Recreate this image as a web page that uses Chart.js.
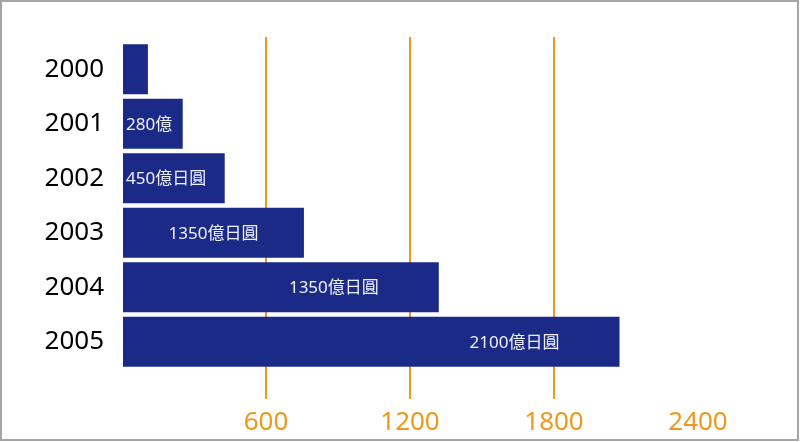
<!DOCTYPE html>
<html>
<head>
<meta charset="utf-8">
<script src="https://cdn.jsdelivr.net/npm/chart.js@4.4.1/dist/chart.umd.min.js"></script>
<style>
  html, body { margin: 0; padding: 0; background: #fff; }
  canvas { display: block; }
</style>
</head>
<body>
<canvas id="chart" width="800" height="442"></canvas>
<script>
// Datos del gráfico
const years = ['2000', '2001', '2002', '2003', '2004', '2005'];
const amounts = [108, 253, 428, 758, 1320, 2073];
const barTexts = ['', '280億', '450億日圓', '1350億日圓', '1350億日圓', '2100億日圓'];
const xTicks = [0, 600, 1200, 1800, 2400];

const navy = '#1a2a86';
const orange = '#ee9820';

// Dónde va cada texto dentro de su barra
const textPlacement = [null, 'start', 'start', 'center', 'end', 'end'];

// Líneas verticales: un poco por encima del área
const gridTop = {
    id: 'gridTop',
    beforeDatasetsDraw(chart) {
        const { ctx, chartArea, scales } = chart;
        ctx.save();
        ctx.strokeStyle = orange;
        ctx.lineWidth = 2;
        xTicks.slice(1, -1).forEach(v => {
            const x = scales.x.getPixelForValue(v);
            ctx.beginPath();
            ctx.moveTo(x, chartArea.top - 5);
            ctx.lineTo(x, chartArea.top);
            ctx.stroke();
        });
        ctx.restore();
    }
};

// Textos blancos dentro de las barras
const barLabels = {
    id: 'barLabels',
    afterDatasetsDraw(chart) {
        const { ctx } = chart;
        const meta = chart.getDatasetMeta(0);
        ctx.save();
        ctx.fillStyle = '#eef0f8';
        ctx.font = '17px "Noto Sans", "Noto Sans CJK TC", sans-serif';
        ctx.textBaseline = 'middle';
        meta.data.forEach((bar, i) => {
            const text = barTexts[i];
            const where = textPlacement[i];
            if (!text || !where) return;
            let x;
            if (where === 'start') {
                ctx.textAlign = 'left';
                x = bar.base + 3;
            } else if (where === 'center') {
                ctx.textAlign = 'center';
                x = (bar.base + bar.x) / 2;
            } else {
                ctx.textAlign = 'right';
                x = bar.x - 60;
            }
            ctx.fillText(text, x, bar.y + 1);
        });
        ctx.restore();
    }
};

// Marco gris
const frame = {
    id: 'frame',
    afterDraw(chart) {
        const { ctx, width, height } = chart;
        ctx.save();
        ctx.strokeStyle = '#a6a6a6';
        ctx.lineWidth = 2;
        ctx.strokeRect(1, 1, width - 3, height - 3);
        ctx.restore();
    }
};

new Chart(document.getElementById('chart'), {
    type: 'bar',
    data: {
        labels: years,
        datasets: [{
            data: amounts,
            backgroundColor: navy,
            borderWidth: 0,
            categoryPercentage: 1,
            barPercentage: 0.916
        }]
    },
    options: {
        indexAxis: 'y',
        responsive: false,
        animation: false,
        layout: {
            padding: { top: 42, right: 102, bottom: 0, left: 0 }
        },
        plugins: {
            legend: { display: false },
            tooltip: { enabled: false }
        },
        scales: {
            x: {
                min: xTicks[0],
                max: xTicks[xTicks.length - 1],
                afterBuildTicks(scale) {
                    scale.ticks = xTicks.map(v => ({ value: v }));
                },
                afterFit(scale) {
                    scale.height = 73;
                },
                border: { display: false },
                grid: {
                    color: c => (c.tick && c.tick.value > 0 && c.tick.value < 2400) ? orange : 'rgba(0,0,0,0)',
                    lineWidth: 2,
                    drawTicks: true,
                    tickLength: 30
                },
                ticks: {
                    color: orange,
                    padding: 8,
                    font: { family: '"Noto Sans", sans-serif', size: 26 },
                    callback: v => (v === 0 ? '' : String(v))
                }
            },
            y: {
                afterFit(scale) {
                    scale.width = 122;
                },
                border: { display: false },
                grid: { display: false, drawTicks: false },
                ticks: {
                    color: '#000',
                    padding: 18,
                    font: { family: '"Noto Sans", sans-serif', size: 26 }
                }
            }
        }
    },
    plugins: [gridTop, barLabels, frame]
});
</script>
</body>
</html>
